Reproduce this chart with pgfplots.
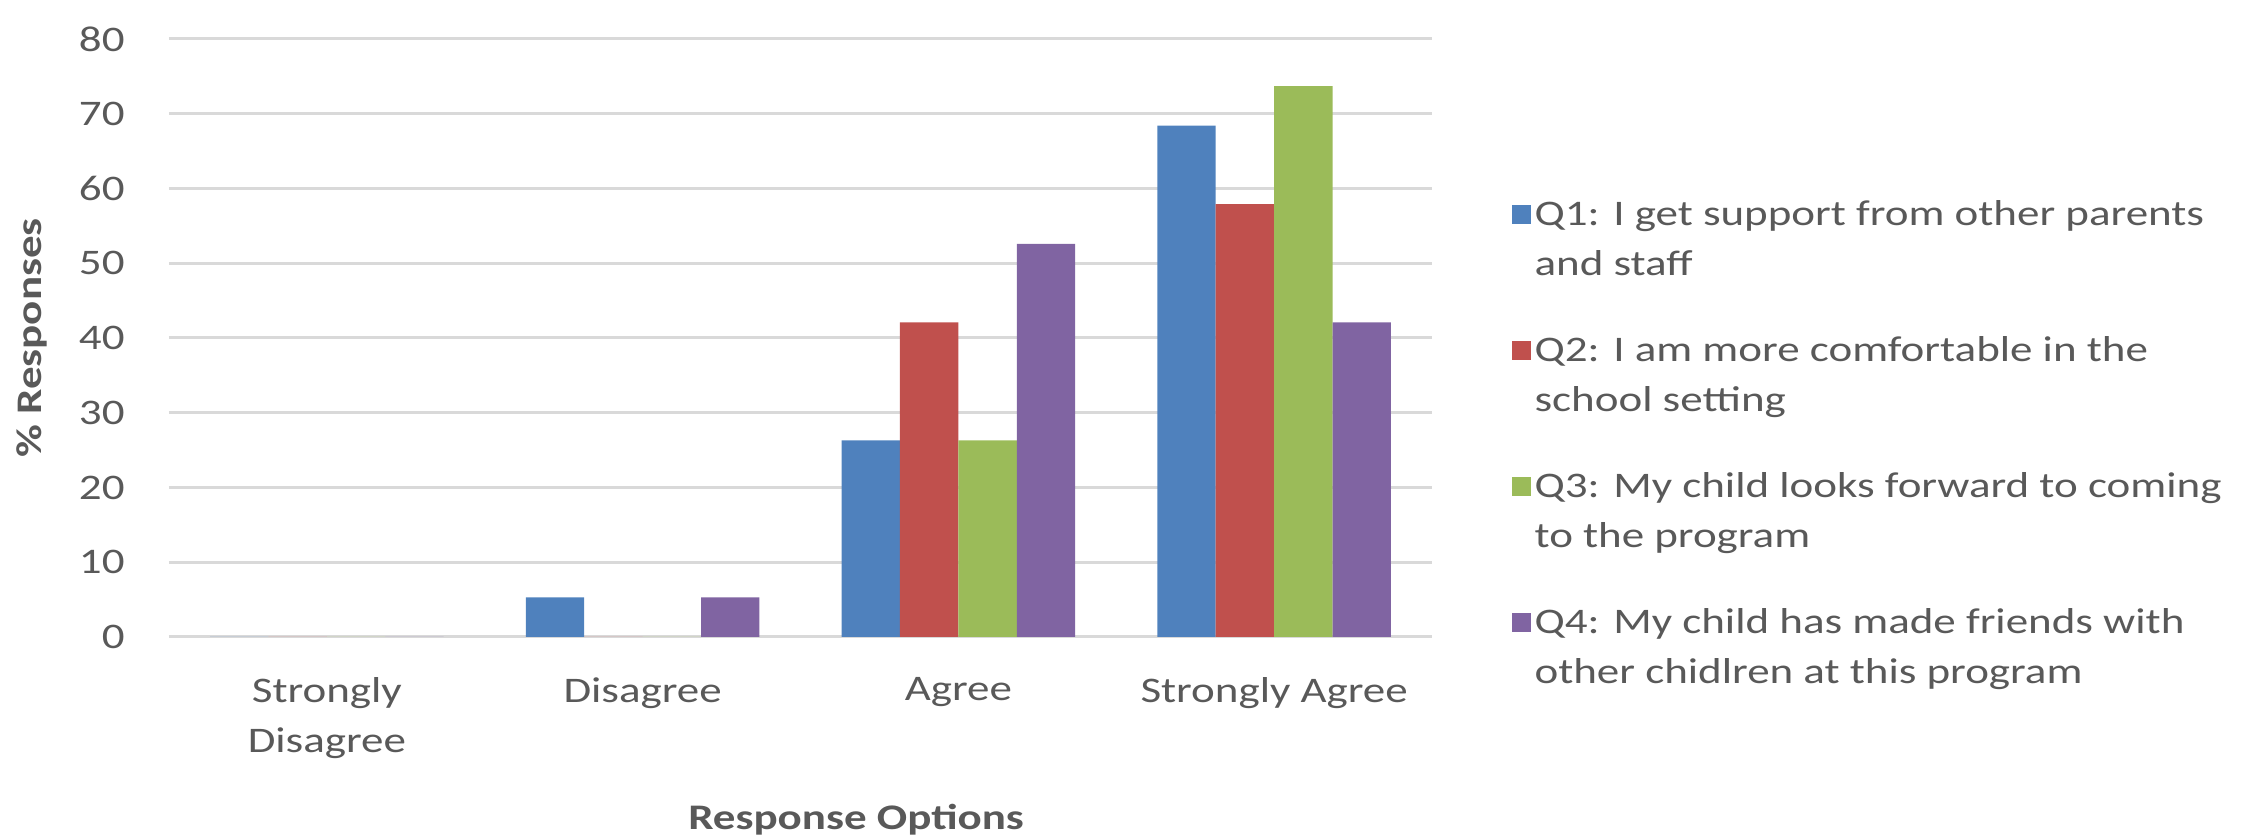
\documentclass[border=0pt]{standalone}
\usepackage{pgfplots}
\pgfplotsset{compat=1.18}
\usepackage{fontspec}
\setmainfont{Carlito}[FakeStretch=1.25]
\definecolor{txt}{HTML}{595959}
\definecolor{gridc}{HTML}{D9D9D9}
\definecolor{c1}{HTML}{4F81BD}
\definecolor{c2}{HTML}{C0504D}
\definecolor{c3}{HTML}{9BBB59}
\definecolor{c4}{HTML}{8064A2}
\begin{document}
\begin{tikzpicture}
\useasboundingbox (-84.5pt,-100.5pt) rectangle (1038.5pt,318.5pt);
\begin{axis}[at={(0,0)}, anchor=south west, scale only axis,
  width=631.5pt, height=299pt,
  ybar=0pt, bar width=29.2pt,
  xmin=-0.5, xmax=3.5, ymin=0, ymax=80, ytick={0,10,...,80},
  xtick=data,
  xticklabels={{Strongly\\Disagree},Disagree,Agree,Strongly Agree},
  axis x line=bottom, axis y line=left, axis line style={draw=none},
  major tick length=0pt,
  ymajorgrids, grid style={draw=gridc, line width=1.5pt},
  /pgf/number format/assume math mode=true,
  tick label style={text=txt, font=\fontsize{18}{25}\selectfont},
  xticklabel style={align=center, anchor=north, inner sep=0pt, yshift=-20pt},
  yticklabel style={anchor=east, inner sep=0pt, xshift=-22pt},
  ylabel={\% Responses}, xlabel={Response Options},
  every axis y label/.style={at={(axis description cs:-0.1085,0.5)}, rotate=90, anchor=center, font=\bfseries\fontsize{18}{25}\selectfont, text=txt},
  every axis x label/.style={at={(axis description cs:0.544,-0.306)}, anchor=center, font=\bfseries\fontsize{18}{25}\selectfont, text=txt},
  legend cell align=left,
  legend style={at={(1.063,0.738)}, anchor=north west, draw=none, fill=none,
    inner sep=0pt, row sep=25pt, font=\fontsize{18}{25}\selectfont, text=txt,
    cells={align=left}},
  legend image code/.code={\fill[#1] (0pt,7.6pt) rectangle (9.3pt,16.9pt);},
]
\addplot[fill=c1, draw=none] coordinates {(0,0) (1,5.3) (2,26.3) (3,68.4)};
\addlegendentry{Q1: I get support from other parents\\and staff}
\addplot[fill=c2, draw=none] coordinates {(0,0) (1,0) (2,42.1) (3,57.9)};
\addlegendentry{Q2: I am more comfortable in the\\school setting}
\addplot[fill=c3, draw=none] coordinates {(0,0) (1,0) (2,26.3) (3,73.7)};
\addlegendentry{Q3: My child looks forward to coming\\to the program}
\addplot[fill=c4, draw=none] coordinates {(0,0) (1,5.3) (2,52.6) (3,42.1)};
\addlegendentry{Q4: My child has made friends with\\other chidlren at this program}
\end{axis}
\end{tikzpicture}
\end{document}
